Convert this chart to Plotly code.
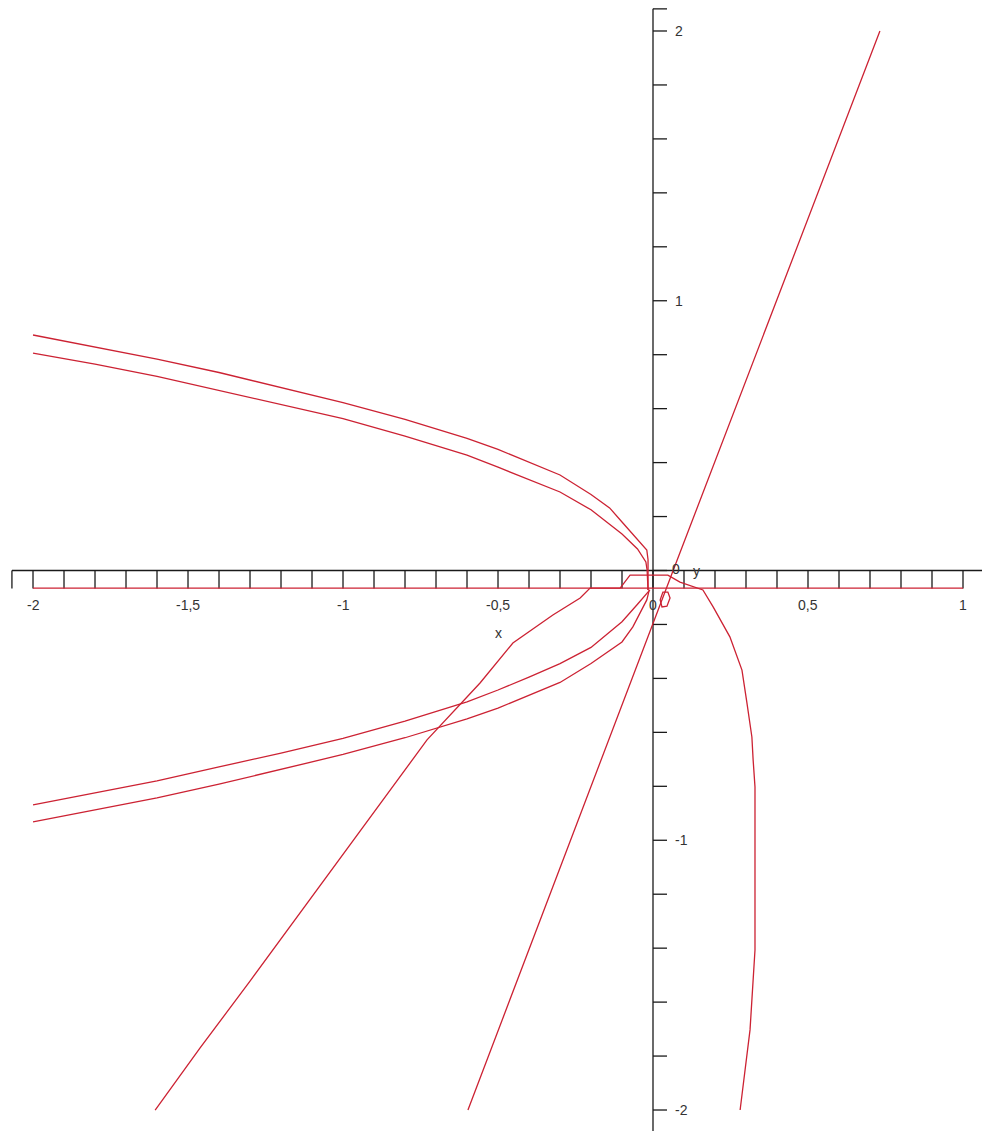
import plotly.graph_objects as go

# ---- curve data (x, y) ----
upper_outer_x = [-2.0, -1.8, -1.6, -1.4, -1.2, -1.0, -0.8, -0.6, -0.5, -0.4, -0.3, -0.2, -0.14, -0.1, -0.05, -0.02, -0.016, -0.016]
upper_outer_y = [0.873, 0.829, 0.784, 0.734, 0.677, 0.622, 0.560, 0.490, 0.449, 0.402, 0.354, 0.282, 0.232, 0.180, 0.115, 0.076, 0.040, -0.072]

upper_inner_x = [-2.0, -1.8, -1.6, -1.4, -1.2, -1.0, -0.8, -0.6, -0.5, -0.4, -0.3, -0.2, -0.1, -0.05, -0.023, -0.019, -0.016]
upper_inner_y = [0.806, 0.765, 0.720, 0.668, 0.617, 0.563, 0.498, 0.428, 0.383, 0.337, 0.291, 0.225, 0.135, 0.080, 0.032, 0.002, -0.072]

lower_inner_x = [-2.0, -1.8, -1.6, -1.4, -1.2, -1.0, -0.8, -0.6, -0.5, -0.4, -0.3, -0.2, -0.1, -0.05, -0.02, -0.01]
lower_inner_y = [-0.869, -0.824, -0.780, -0.728, -0.677, -0.622, -0.558, -0.487, -0.443, -0.395, -0.345, -0.285, -0.190, -0.125, -0.085, -0.072]

lower_outer_x = [-2.0, -1.8, -1.6, -1.4, -1.2, -1.0, -0.8, -0.6, -0.5, -0.4, -0.3, -0.2, -0.1, -0.065, -0.02, -0.012]
lower_outer_y = [-0.932, -0.888, -0.843, -0.792, -0.737, -0.682, -0.620, -0.550, -0.510, -0.462, -0.415, -0.345, -0.265, -0.209, -0.109, -0.072]

arch_x = [-1.606, -1.461, -1.300, -1.139, -0.977, -0.816, -0.729, -0.600, -0.558, -0.452, -0.323, -0.235, -0.203, -0.106, -0.074, 0.048, 0.087, 0.161, 0.194, 0.248, 0.287, 0.303, 0.319, 0.323, 0.329, 0.329, 0.329, 0.313, 0.297, 0.281]
arch_y = [-2.0, -1.770, -1.522, -1.270, -1.018, -0.766, -0.628, -0.469, -0.417, -0.269, -0.165, -0.102, -0.065, -0.065, -0.017, -0.017, -0.043, -0.072, -0.135, -0.246, -0.369, -0.491, -0.617, -0.702, -0.802, -1.073, -1.407, -1.703, -1.852, -2.0]

line_x = [-0.597, 0.045, 0.065, 0.732]
line_y = [-2.0, -0.065, 0.0, 2.0]

loop_x = [0.023, 0.032, 0.048, 0.055, 0.045, 0.029, 0.023]
loop_y = [-0.109, -0.080, -0.080, -0.102, -0.132, -0.135, -0.109]

base_x = [-2.0, 1.0]
base_y = [-0.065, -0.065]

# ---- axis ticks and labels ----
x_minor_ticks = [round(-2.0 + 0.1 * i, 1) for i in range(31)]
y_minor_ticks = [round(-2.0 + 0.2 * i, 1) for i in range(21)]
x_label_vals = [-2.0, -1.5, -1.0, -0.5, 0.0, 0.5, 1.0]
x_label_text = ["-2", "-1,5", "-1", "-0,5", "0", "0,5", "1"]
y_label_vals = [-2.0, -1.0, 1.0, 2.0]
y_label_text = ["-2", "-1", "1", "2"]

W, H = 982, 1131
X_RANGE = [-2.1065, 1.0613]
Y_RANGE = [-2.0778, 2.1149]
px_x = (X_RANGE[1] - X_RANGE[0]) / W   # data units per pixel, horizontal
px_y = (Y_RANGE[1] - Y_RANGE[0]) / H   # data units per pixel, vertical

RED = "#cc2233"
AXIS = "#1a1a1a"
FONT = dict(family="Liberation Sans, Arial, sans-serif", size=14, color="#333333")

fig = go.Figure()

# axes drawn through the origin
x_end_l, x_end_r = -2.068, 1.075
y_end_t, y_end_b = 2.082, -2.09
xtick_len = 18 * px_y
ytick_len = 14 * px_x

ax_x, ax_y = [x_end_l, x_end_r, None], [0, 0, None]
for t in x_minor_ticks + [x_end_l]:
    ax_x += [t, t, None]
    ax_y += [0, -xtick_len, None]
ax_x += [0, 0, None]
ax_y += [y_end_b, y_end_t, None]
for t in y_minor_ticks + [y_end_t]:
    ax_x += [0, ytick_len, None]
    ax_y += [t, t, None]
fig.add_trace(go.Scatter(x=ax_x, y=ax_y, mode="lines",
                         line=dict(color=AXIS, width=1.3), hoverinfo="skip"))

for xs, ys in [(base_x, base_y), (upper_outer_x, upper_outer_y),
               (upper_inner_x, upper_inner_y), (lower_inner_x, lower_inner_y),
               (lower_outer_x, lower_outer_y), (arch_x, arch_y),
               (line_x, line_y), (loop_x, loop_y)]:
    fig.add_trace(go.Scatter(x=xs, y=ys, mode="lines",
                             line=dict(color=RED, width=1.3)))

annotations = []
for v, t in zip(x_label_vals, x_label_text):
    annotations.append(dict(x=v, y=0, text=t, showarrow=False, xanchor="center",
                            yanchor="middle", yshift=-34.5, font=FONT))
for v, t in zip(y_label_vals, y_label_text):
    annotations.append(dict(x=0, y=v, text=t, showarrow=False, xanchor="left",
                            yanchor="middle", xshift=20, font=FONT))
annotations.append(dict(x=0, y=0, text="0", showarrow=False, xanchor="center",
                        yanchor="middle", xshift=23, yshift=1.5, font=FONT))
annotations.append(dict(x=0, y=0, text="y", showarrow=False, xanchor="center",
                        yanchor="middle", xshift=43, yshift=0, font=FONT))
annotations.append(dict(x=-0.5, y=0, text="x", showarrow=False, xanchor="center",
                        yanchor="middle", yshift=-62.5, font=FONT))

fig.update_layout(
    width=W, height=H, margin=dict(l=0, r=0, t=0, b=0),
    paper_bgcolor="white", plot_bgcolor="white", showlegend=False,
    xaxis=dict(range=X_RANGE, visible=False, fixedrange=True),
    yaxis=dict(range=Y_RANGE, visible=False, fixedrange=True),
    annotations=annotations,
)

fig.write_html("out.html")
